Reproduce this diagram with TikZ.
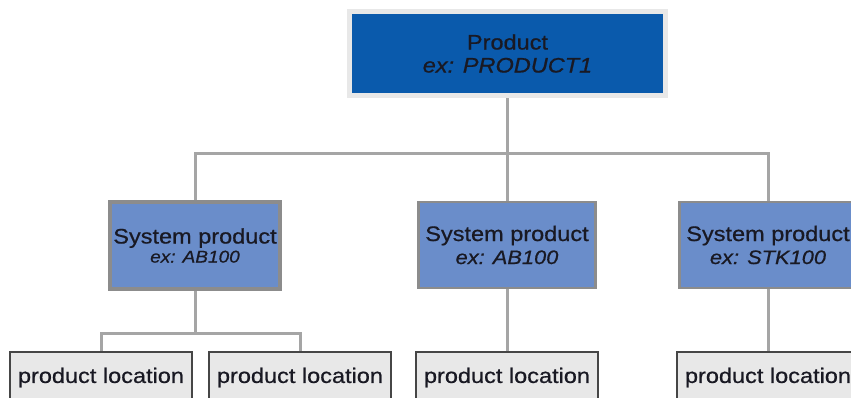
\documentclass[tikz,border=0pt]{standalone}
\usepackage{fontspec}
\setmainfont{Liberation Sans}[FakeStretch=1.12,FakeBold=0.7]
\definecolor{topblue}{RGB}{10,90,172}
\definecolor{sysblue}{RGB}{106,141,202}
\definecolor{frame}{RGB}{232,232,232}
\definecolor{sysborder}{RGB}{140,140,140}
\definecolor{conncol}{RGB}{165,165,165}
\definecolor{locfill}{RGB}{232,232,232}
\definecolor{locborder}{RGB}{70,70,70}
\definecolor{txt}{RGB}{25,25,35}
\begin{document}
\begin{tikzpicture}[x=1pt,y=-1pt,
  topbox/.style={fill=topblue,draw=frame,line width=5pt,inner sep=0pt,
    minimum width=316pt,minimum height=84pt,align=center,text=txt,
    font=\fontsize{21}{24}\selectfont},
  sysbox/.style={fill=sysblue,draw=sysborder,line width=2.5pt,inner sep=0pt,
    minimum width=177pt,minimum height=86pt,align=center,text=txt,
    font=\fontsize{21}{24}\selectfont},
  locbox/.style={fill=locfill,draw=locborder,line width=2pt,inner sep=0pt,
    minimum width=182pt,minimum height=51pt,text=txt,
    font=\fontsize{21}{24}\selectfont},
  conn/.style={draw=conncol,line width=3pt}]
\useasboundingbox (0,0) rectangle (851,397);
\node[topbox] (top) at (507.5,53.5) {Product\\[-1pt]\textit{ex: PRODUCT1}};
\node[sysbox,line width=4pt,minimum width=170pt,minimum height=87pt] (s1) at (195,245.5)
  {System product\\[-5pt]{\fontsize{17}{20}\selectfont\textit{ex: AB100}}};
\node[sysbox] (s2) at (507,245) {System product\\[-1pt]{\fontsize{19.5}{24}\selectfont\textit{ex: AB100}}};
\node[sysbox] (s3) at (768,245) {System product\\[-1pt]{\fontsize{19.5}{24}\selectfont\textit{ex: STK100}}};
\node[locbox] (p1) at (101,377.5) {product location};
\node[locbox] (p2) at (300,377.5) {product location};
\node[locbox] (p3) at (507,377.5) {product location};
\node[locbox] (p4) at (768,377.5) {product location};
\coordinate (j) at (507,153);
\coordinate (k) at (195,333);
\draw[conn] (top.south) -- (top.south |- j);
\draw[conn] (j) -| (s1.north);
\draw[conn] (j) -- (s2.north);
\draw[conn] (j) -| (s3.north);
\draw[conn] (s1.south) -- (k);
\draw[conn] (k) -| (p1.north);
\draw[conn] (k) -| (p2.north);
\draw[conn] (s2.south) -- (p3.north);
\draw[conn] (s3.south) -- (p4.north);
\end{tikzpicture}
\end{document}
